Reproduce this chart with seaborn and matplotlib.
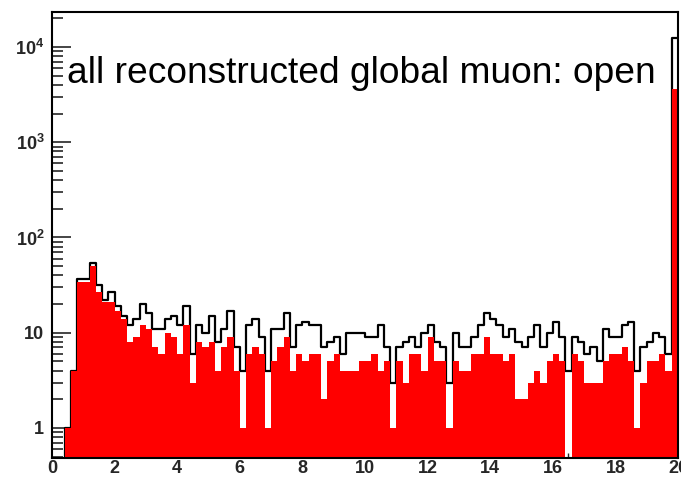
import numpy as np
import pandas as pd
import matplotlib
matplotlib.use("Agg")
import matplotlib.pyplot as plt
import seaborn as sns
from matplotlib.ticker import FixedLocator, LogLocator, MultipleLocator, NullFormatter

# ---------------- data ----------------
x_min, x_max, n_bins = 0.0, 20.0, 100

all_global = [0, 0, 1, 4, 37, 37, 54, 32, 22, 27,
              19, 15, 12, 14, 20, 16, 11, 11, 14, 15,
              12, 19, 6, 12, 10, 15, 8, 11, 17, 7,
              4, 12, 14, 9, 4, 11, 11, 16, 7, 12,
              13, 12, 12, 7, 8, 9, 6, 10, 10, 10,
              9, 9, 12, 7, 3, 7, 8, 9, 7, 10,
              12, 8, 7, 3, 10, 7, 7, 9, 12, 16,
              14, 12, 9, 11, 8, 7, 9, 12, 7, 10,
              13, 9, 4, 9, 8, 6, 7, 5, 11, 9,
              9, 12, 13, 4, 7, 8, 10, 9, 6, 12400]

selected = [0, 0, 1, 4, 34, 34, 50, 27, 21, 21,
            17, 14, 8, 9, 12, 11, 7, 6, 10, 9,
            6, 12, 3, 8, 7, 8, 4, 7, 9, 4,
            1, 6, 7, 6, 1, 5, 7, 9, 4, 6,
            5, 6, 6, 2, 5, 6, 4, 4, 4, 5,
            5, 6, 4, 5, 1, 5, 3, 6, 6, 4,
            9, 5, 5, 1, 5, 4, 4, 6, 6, 9,
            6, 6, 5, 6, 2, 2, 3, 4, 3, 5,
            6, 5, 0, 6, 5, 3, 3, 3, 5, 6,
            6, 7, 5, 1, 3, 5, 5, 6, 4, 3600]

x_tick_values = [0, 2, 4, 6, 8, 10, 12, 14, 16, 18, 20]
x_tick_labels = ["0", "2", "4", "6", "8", "10", "12", "14", "16", "18", "20"]
y_tick_values = [1, 10, 100, 1000, 10000]
y_tick_labels = ["1", "10", r"$\mathbf{10^{2}}$", r"$\mathbf{10^{3}}$", r"$\mathbf{10^{4}}$"]
title_text = "all reconstructed global muon: open"

# ---------------- frame ----------------
edges = np.linspace(x_min, x_max, n_bins + 1)
centers = 0.5 * (edges[:-1] + edges[1:])
df = pd.DataFrame({"pt": centers, "all": all_global, "sel": selected})

sns.set_style("ticks")
plt.rcParams["font.family"] = ["Liberation Sans", "DejaVu Sans"]
plt.rcParams["mathtext.fontset"] = "custom"
plt.rcParams["mathtext.rm"] = "Liberation Sans"
plt.rcParams["mathtext.bf"] = "Liberation Sans:bold"

W, H = 681, 478
fig = plt.figure(figsize=(W / 100, H / 100), dpi=100)
fig.patch.set_facecolor("white")
ax = fig.add_axes([52 / W, 1 - 458 / H, (678 - 52) / W, (458 - 12) / H])
ax.set_facecolor("white")

sns.histplot(data=df, x="pt", weights="all", bins=n_bins, binrange=(x_min, x_max),
             element="step", fill=False, color="black", linewidth=1.6,
             zorder=1, ax=ax)
sns.histplot(data=df, x="pt", weights="sel", bins=n_bins, binrange=(x_min, x_max),
             element="step", fill=True, color="#ff0000", alpha=1, linewidth=0,
             zorder=2, ax=ax)

ax.set_yscale("log")
ax.set_xlim(x_min, x_max)
ax.set_ylim(0.484, 23300)
ax.set_xlabel("")
ax.set_ylabel("")
ax.set_axisbelow(True)

ax.xaxis.set_major_locator(FixedLocator(x_tick_values))
ax.set_xticklabels(x_tick_labels)
ax.xaxis.set_minor_locator(MultipleLocator(0.5))
ax.yaxis.set_major_locator(FixedLocator(y_tick_values))
ax.set_yticklabels(y_tick_labels)
ax.yaxis.set_minor_locator(LogLocator(base=10, subs=np.arange(2, 10), numticks=30))
ax.yaxis.set_minor_formatter(NullFormatter())

ax.tick_params(axis="y", which="major", direction="in", length=14, width=1.2,
               pad=5.5, labelsize=13, left=True, right=False)
ax.tick_params(axis="y", which="minor", direction="in", length=8, width=1.2,
               left=True, right=False)
ax.tick_params(axis="x", which="major", direction="in", length=7, width=1.2,
               pad=1.5, labelsize=13, bottom=True, top=False)
ax.tick_params(axis="x", which="minor", direction="in", length=3.5, width=1.0,
               bottom=True, top=False)
for lab in ax.get_xticklabels() + ax.get_yticklabels():
    lab.set_fontweight("bold")

for sp in ax.spines.values():
    sp.set_visible(True)
    sp.set_linewidth(1.5)
    sp.set_color("black")
    sp.set_zorder(3)

ax.text(0.024, 0.8408, title_text, transform=ax.transAxes, fontsize=26.7,
        ha="left", va="baseline", color="black", zorder=4)

fig.savefig("out.png", dpi=100, facecolor="white")
